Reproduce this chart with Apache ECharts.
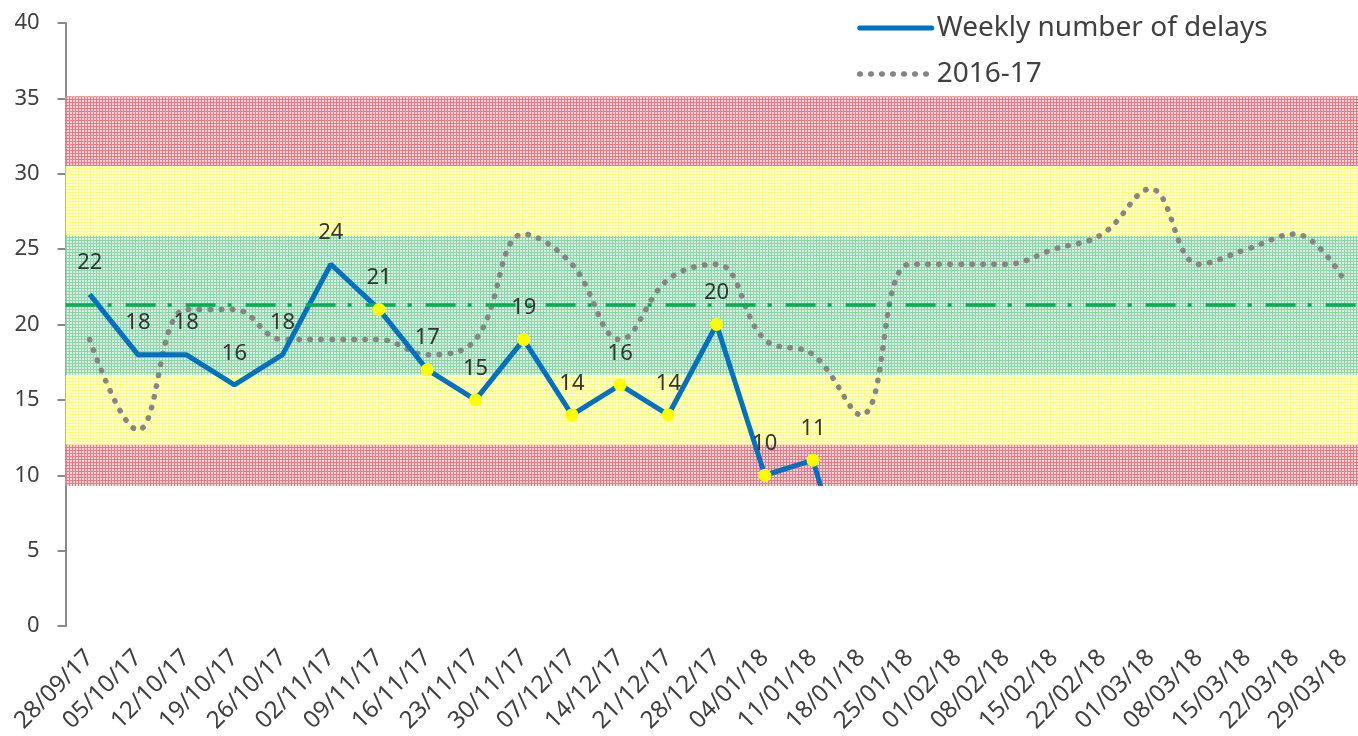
<!DOCTYPE html>
<html>
<head>
<meta charset="utf-8">
<script src="https://cdn.jsdelivr.net/npm/echarts@6/dist/echarts.min.js"></script>
<style>
  html, body { margin: 0; padding: 0; background: #fff; }
  #chart { width: 1358px; height: 736px; }
</style>
</head>
<body>
<div id="chart"></div>
<script>
// weeks on the x axis
const weeks = ['28/09/17', '05/10/17', '12/10/17', '19/10/17', '26/10/17', '02/11/17', '09/11/17',
  '16/11/17', '23/11/17', '30/11/17', '07/12/17', '14/12/17', '21/12/17', '28/12/17', '04/01/18',
  '11/01/18', '18/01/18', '25/01/18', '01/02/18', '08/02/18', '15/02/18', '22/02/18', '01/03/18',
  '08/03/18', '15/03/18', '22/03/18', '29/03/18'];

// this year (last value drops out of the visible area)
const delays = [22, 18, 18, 16, 18, 24, 21, 17, 15, 19, 14, 16, 14, 20, 10, 11, 0];
// which weeks get a yellow marker
const marked = [0, 0, 0, 0, 0, 0, 1, 1, 1, 1, 1, 1, 1, 1, 1, 1, 0];
// previous year
const lastYear = [19, 13, 21, 21, 19, 19, 19, 18, 19, 26, 24, 19, 23, 24, 19, 18, 14,
  24, 24, 24, 25, 26, 29, 24, 25, 26, 23];

// control limits
const meanLine = 21.28;
const bandEdges = [9.28, 12.04, 16.66, 25.9, 30.52, 35.14];
const yTicks = { min: 0, max: 40, step: 5 };

const names = ['Weekly number of delays', '2016-17'];

// little crosshatch pattern like the excel fills
function hatch(bg, line) {
  const c = document.createElement('canvas');
  c.width = 3; c.height = 3;
  const g = c.getContext('2d');
  g.fillStyle = bg; g.fillRect(0, 0, 3, 3);
  g.fillStyle = line; g.fillRect(0, 0, 3, 1); g.fillRect(0, 0, 1, 3);
  return { image: c, repeat: 'repeat' };
}
const red = hatch('#f6d4d8', '#e27d88');
const yellow = hatch('#ffffe0', '#ffff80');
const green = hatch('#d8f1e2', '#8cd5a8');
const bandFills = [red, yellow, green, yellow, red];

const bands = [];
for (let i = 0; i < bandEdges.length - 1; i++) {
  bands.push([{ yAxis: bandEdges[i], itemStyle: { color: bandFills[i] } }, { yAxis: bandEdges[i + 1] }]);
}

const FONT = 'Noto Sans';
const dots = { color: '#858585', width: 5.5, type: [0.5, 10.5], cap: 'round' };

const chart = echarts.init(document.getElementById('chart'));

chart.setOption({
  animation: false,
  textStyle: { fontFamily: FONT },
  // plot runs past the right edge like in the original
  grid: { left: 65.6, top: 23, width: 1302, bottom: 110, containLabel: false, outerBoundsMode: 'none' },
  legend: {
    left: 852, top: 9, orient: 'vertical', itemWidth: 72, itemHeight: 14, itemGap: 18,
    textStyle: { fontSize: 28, color: '#404040', fontFamily: FONT },
    data: [
      { name: names[0], itemStyle: { opacity: 0 }, lineStyle: { color: '#0070C0', width: 5, cap: 'round' } },
      { name: names[1], itemStyle: { opacity: 0 }, lineStyle: dots }
    ]
  },
  // hides the part of the line that falls below the lowest band
  visualMap: {
    show: false, type: 'piecewise', seriesIndex: 2, dimension: 1,
    pieces: [
      { min: bandEdges[0], max: yTicks.max, color: '#0070C0' },
      { min: yTicks.min, max: bandEdges[0], color: 'rgba(255,255,255,0)' }
    ],
    outOfRange: { color: 'rgba(255,255,255,0)' }
  },
  xAxis: {
    type: 'category', data: weeks, boundaryGap: true,
    axisLine: { show: false }, axisTick: { show: false }, splitLine: { show: false },
    axisLabel: { interval: 0, rotate: 45, fontSize: 24, color: '#404040', margin: 28 }
  },
  yAxis: {
    type: 'value', min: yTicks.min, max: yTicks.max, interval: yTicks.step,
    splitLine: { show: false },
    axisLine: { show: true, lineStyle: { color: '#888', width: 2 } },
    axisTick: { show: true, length: 8, lineStyle: { color: '#888', width: 2 } },
    axisLabel: { fontSize: 22, color: '#404040', margin: 26 }
  },
  series: [
    {
      // bands + mean line
      name: 'limits', type: 'line', data: [], z: 1, silent: true,
      markArea: { silent: true, data: bands },
      markLine: {
        silent: true, symbol: 'none', label: { show: false },
        lineStyle: { color: '#00B050', width: 3.5, type: [30, 12, 4, 14] },
        data: [{ yAxis: meanLine }]
      }
    },
    {
      name: names[1], type: 'line', data: lastYear, z: 3,
      smooth: 0.4, symbol: 'none',
      lineStyle: dots,
      itemStyle: { color: dots.color }
    },
    {
      name: names[0], type: 'line', data: delays, z: 4,
      symbol: 'none',
      lineStyle: { width: 5 }
    },
    {
      name: 'points', type: 'scatter', z: 5, symbolSize: 13,
      data: delays.map((v, i) => v < bandEdges[0] ? '-' : {
        value: v,
        itemStyle: { color: marked[i] ? '#FFFF00' : 'rgba(0,0,0,0)', opacity: 1 }
      }),
      itemStyle: { opacity: 1 },
      label: { show: true, position: 'top', distance: 14, fontSize: 22, color: '#333' }
    }
  ]
});
</script>
</body>
</html>
